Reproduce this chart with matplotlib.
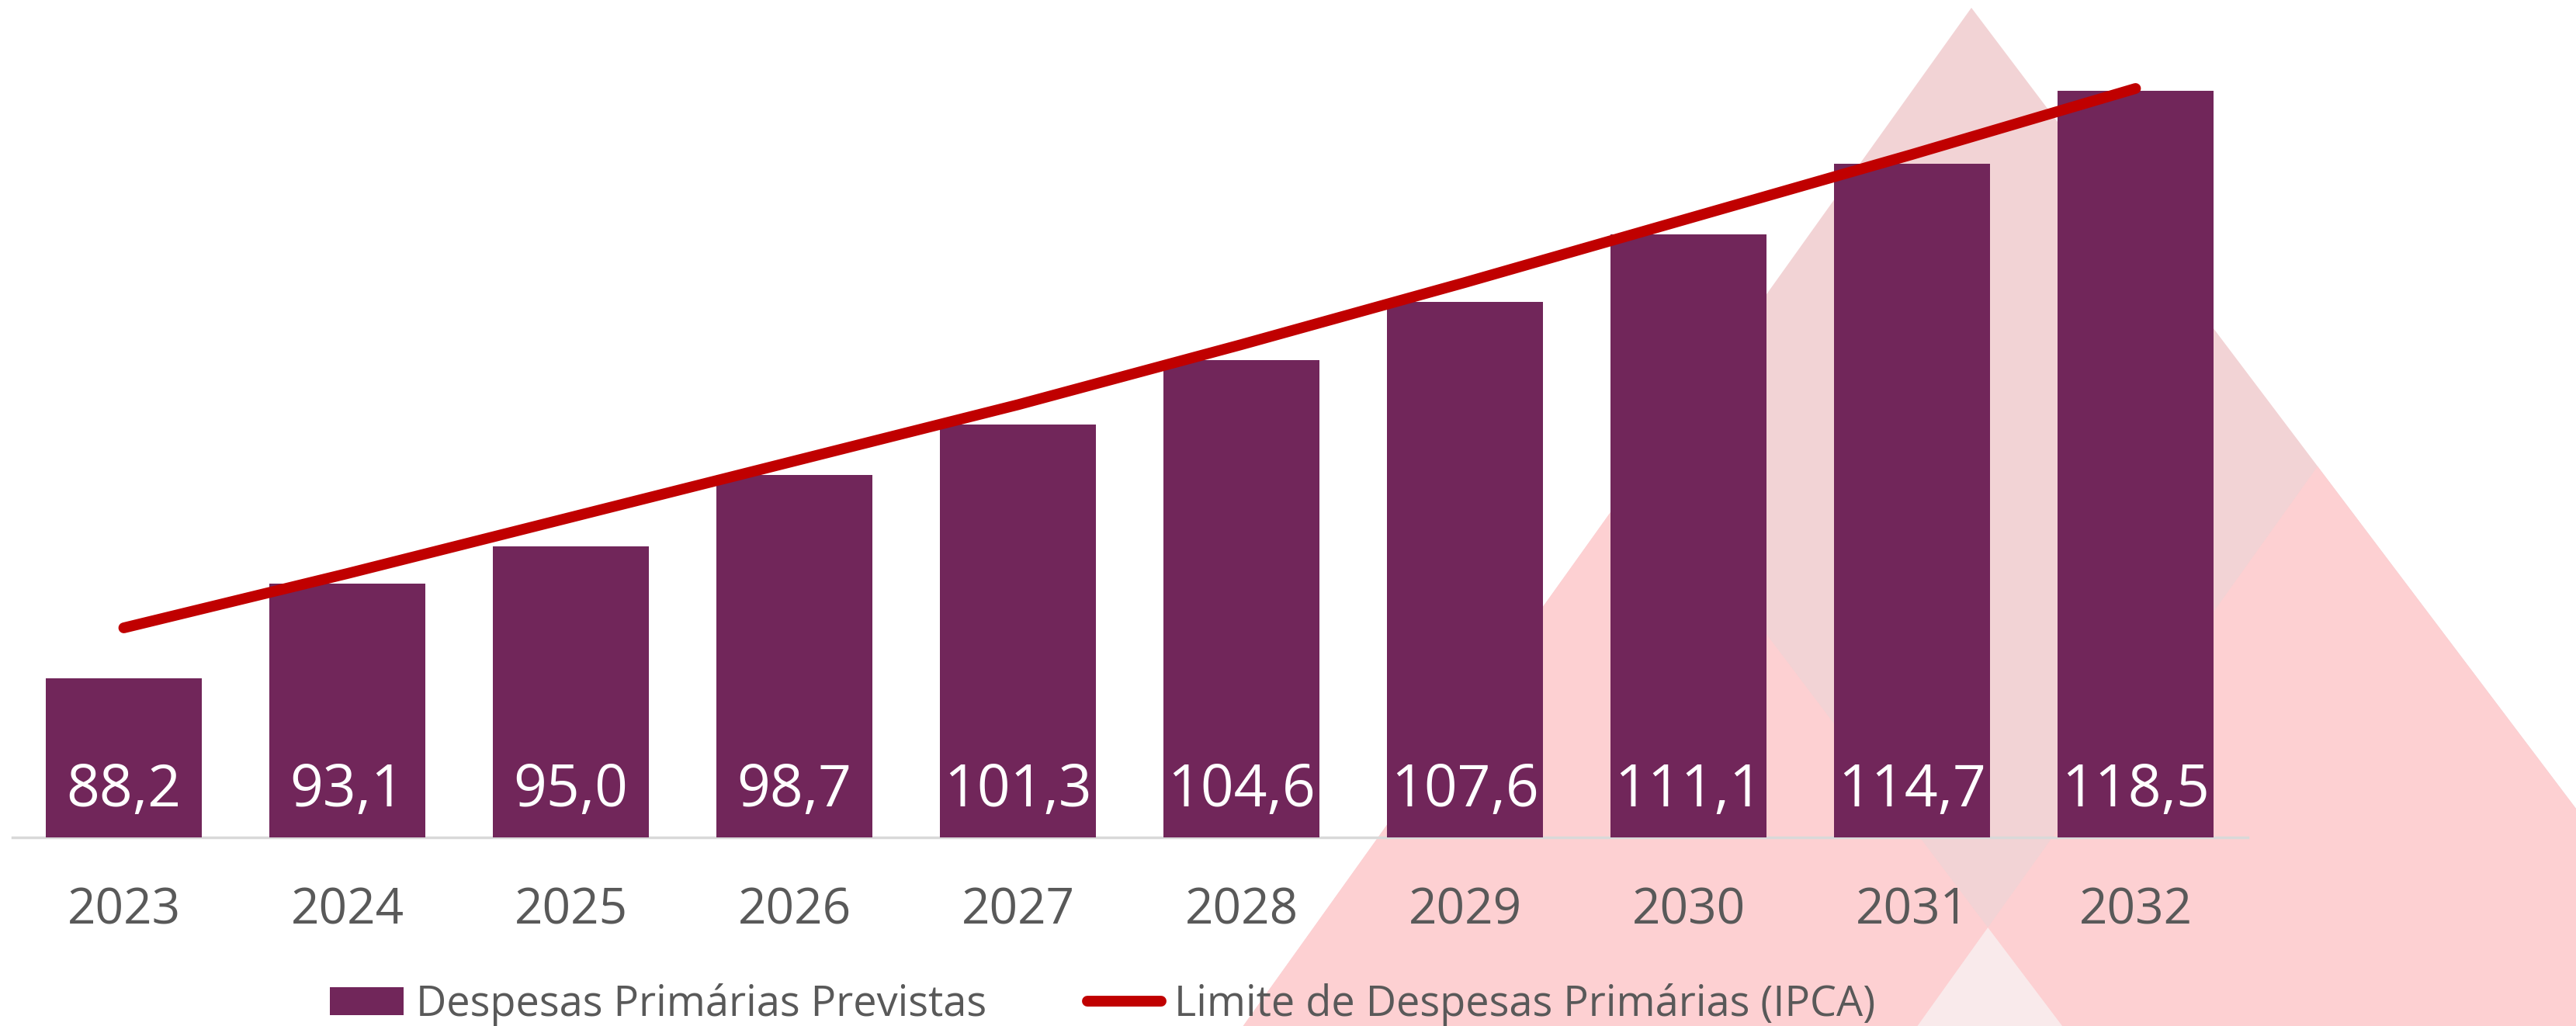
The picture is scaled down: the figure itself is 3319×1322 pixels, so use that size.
import matplotlib
matplotlib.use("Agg")
import matplotlib.pyplot as plt
from matplotlib.patches import Polygon, Patch
from matplotlib.lines import Line2D

plt.rcParams['font.family'] = ['Open Sans', 'DejaVu Sans']

years = ['2023', '2024', '2025', '2026', '2027', '2028', '2029', '2030', '2031', '2032']
despesas = [88.2, 93.1, 95.0, 98.7, 101.3, 104.6, 107.6, 111.1, 114.7, 118.5]
limite = [90.8, 93.6, 96.5, 99.4, 102.3, 105.4, 108.6, 111.9, 115.2, 118.6]

BAR = '#71265a'
LINE = '#c00000'
GREY_TXT = '#595959'

W, H = 3319, 1322
fig = plt.figure(figsize=(W / 100, H / 100), dpi=100)
fig.patch.set_facecolor('white')

# background decoration: overlapping pink triangles (pixel coords)
bg = fig.add_axes([0, 0, 1, 1], zorder=0)
bg.set_xlim(0, W)
bg.set_ylim(H, 0)
bg.axis('off')


def tri(ax_, ay, depth=2500):
    # left edge dx/dy = -0.715, right edge dx/dy = 0.755
    return [(ax_, ay), (ax_ + 0.755 * depth, ay + depth), (ax_ - 0.715 * depth, ay + depth)]


tri_a = Polygon(tri(2540, 10), closed=True, facecolor='#f2d3d5', edgecolor='none')
tri_b = Polygon(tri(2986, 601), closed=True, facecolor='#fdd0d2', edgecolor='none')
tri_c = Polygon(tri(2115, 604), closed=True, facecolor='#fdd0d2', edgecolor='none')
for p in (tri_a, tri_b, tri_c):
    bg.add_patch(p)
# where B and C overlap the colour turns very light
tri_bc = Polygon(tri(2115, 604), closed=True, facecolor='#f9eaeb', edgecolor='none')
bg.add_patch(tri_bc)
tri_bc.set_clip_path(tri_b)

# main chart
ax = fig.add_axes([15.5 / W, (H - 1079) / H, 2880 / W, 1000 / H], zorder=1)
ax.set_facecolor('none')
x = list(range(len(years)))
ymin = 80

ax.bar(x, [v - ymin for v in despesas], bottom=ymin, width=0.70, color=BAR,
       label='Despesas Primárias Previstas', zorder=2)
ax.plot(x, limite, color=LINE, lw=10, solid_capstyle='round', clip_on=False,
        label='Limite de Despesas Primárias (IPCA)', zorder=3)

for xi, v in zip(x, despesas):
    ax.text(xi, ymin + 1.6, f"{v:.1f}".replace('.', ','), ha='center', va='baseline',
            color='white', fontsize=54, zorder=4)

ax.set_xlim(-0.5, 9.5)
ax.set_ylim(ymin, 120)
ax.set_xticks(x)
ax.set_xticklabels(years, fontsize=46, color=GREY_TXT)
ax.tick_params(axis='x', length=0, pad=45)
ax.set_yticks([])
for s in ('top', 'right', 'left'):
    ax.spines[s].set_visible(False)
ax.spines['bottom'].set_color('#d9d9d9')
ax.spines['bottom'].set_linewidth(2.5)
ax.spines['bottom'].set_zorder(1)

handles = [Patch(facecolor=BAR, edgecolor='none'),
           Line2D([0], [0], color=LINE, lw=10, solid_capstyle='round')]
labels = ['Despesas Primárias Previstas', 'Limite de Despesas Primárias (IPCA)']
leg = fig.legend(handles, labels, loc='center', bbox_to_anchor=(0.428, 0.021), ncol=2,
                 frameon=False, fontsize=39, handlelength=1.75, handleheight=0.65,
                 handletextpad=0.3, columnspacing=2.4, borderpad=0, borderaxespad=0)
for t in leg.get_texts():
    t.set_color(GREY_TXT)

fig.savefig('out.png', dpi=100, facecolor='white')
